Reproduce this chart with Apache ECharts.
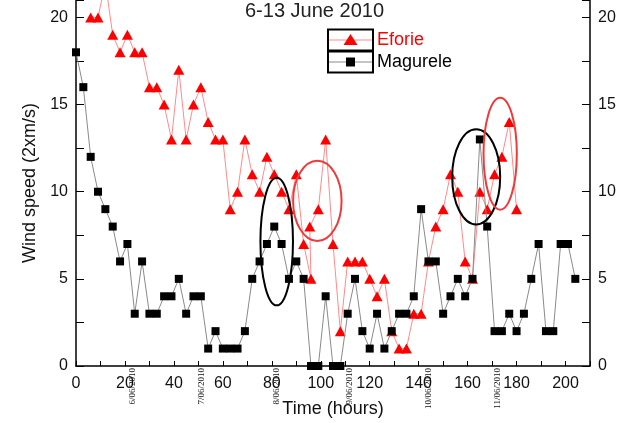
<!DOCTYPE html>
<html><head><meta charset="utf-8">
<script src="https://cdn.jsdelivr.net/npm/echarts@6/dist/echarts.min.js"></script>
<style>html,body{margin:0;padding:0;background:#fff}#c{width:625px;height:423px}</style>
</head><body><div id="c"></div>
<script>
// ---- data ----
const magTimes = [0,3,6,9,12,15,18,21,24,27,30,33,36,39,42,45,48,51,54,57,60,63,66,69,72,75,78,81,84,87,90,93,96,99,102,105,108,111,114,117,120,123,126,129,132,135,138,141,144,147,150,153,156,159,162,165,168,171,174,177,180,183,186,189,192,195,198,201,204];
const magValues = [18,16,12,10,9,8,6,7,3,6,3,3,4,4,5,3,4,4,1,2,1,1,1,2,5,6,7,8,7,5,6,5,0,0,4,0,0,3,5,2,1,3,1,2,3,3,4,9,6,6,3,4,5,4,5,13,8,2,2,3,2,3,5,7,2,2,7,7,5];
const efoTimes = [6,9,12,15,18,21,24,27,30,33,36,39,42,45,48,51,54,57,60,63,66,69,72,75,78,81,84,87,90,93,96,95.5,99,102,105,108,111,114,117,120,123,126,129,132,135,138,141,144,147,150,153,156,159,162,165,168,171,174,177,180];
const efoValues = [20,20,22,19,18,19,18,18,16,16,15,13,17,13,15,16,14,13,13,9,10,13,11,10,12,11,10,9,11,7,5,8,9,13,7,2,6,6,6,5,4,5,2,1,1,3,3,6,8,9,11,10,6,5,10,9,11,12,14,9];
const dateLabels = ['6/06/2010','7/06/2010','8/06/2010','9/06/2010','10/06/2010','11/06/2010'];
const dateHours = [23,51.3,82,111.6,144,172.2];
// annotation ellipses: [centre hour, centre value, half-width hours, half-height value, colour]
const ellipses = [[82,7.14,6.65,3.66,'#000'],[98.6,9.47,9.9,2.3,'#f03a3a'],[163.5,10.85,9.8,2.73,'#000'],[173.3,12.18,6.8,3.21,'#f03a3a']];
const yTicks = [0,5,10,15,20];

const FONT = 'Liberation Sans, Arial, sans-serif';
const chart = echarts.init(document.getElementById('c'));
const yAxisBase = {
  type:'value', min:0, max:21, interval:2.5,
  axisLine:{show:true, lineStyle:{color:'#000', width:1.5}},
  axisTick:{show:true, inside:true, length:8, lineStyle:{color:'#000', width:1}},
  axisLabel:{fontFamily:FONT, fontSize:16, color:'#111', margin:8,
    formatter:v => yTicks.indexOf(v) >= 0 ? String(v) : ''},
  splitLine:{show:false}
};
const option = {
  animation:false,
  backgroundColor:'#fff',
  title:{text:'6-13 June 2010', left:245, top:1, padding:0,
    textStyle:{fontFamily:FONT, fontSize:20, fontWeight:'normal', color:'#222'}},
  grid:{left:76, right:35, top:0, bottom:56},
  xAxis:{type:'value', min:0, max:210, interval:10,
    name:'Time (hours)', nameLocation:'middle', nameGap:34,
    nameTextStyle:{fontFamily:FONT, fontSize:18, color:'#111'},
    axisLine:{lineStyle:{color:'#000', width:1.5}},
    axisTick:{inside:true, length:5, lineStyle:{color:'#000'}},
    axisLabel:{fontFamily:FONT, fontSize:16, color:'#111', margin:10,
      formatter:v => (v % 20 === 0 && v <= 200) ? String(v) : ''},
    splitLine:{show:false}},
  yAxis:[
    Object.assign({}, yAxisBase, {position:'left', name:'Wind speed (2xm/s)', nameLocation:'middle', nameGap:36,
      nameTextStyle:{fontFamily:FONT, fontSize:18, color:'#111'}}),
    Object.assign({}, yAxisBase, {position:'right'})
  ],
  series:[
    {name:'Eforie', type:'line', data:efoTimes.map((t,i)=>[t,efoValues[i]]),
     symbol:'triangle', symbolSize:[11,10], itemStyle:{color:'#ff0000'},
     lineStyle:{color:'#ff8a8a', width:1}, z:3},
    {name:'Magurele', type:'line', data:magTimes.map((t,i)=>[t,magValues[i]]),
     symbol:'rect', symbolSize:8, itemStyle:{color:'#000'},
     lineStyle:{color:'#8a8a8a', width:1}, z:4}
  ]
};
chart.setOption(option);

const g = [];
// date labels under the axis
dateHours.forEach((h,i)=>{
  const p = chart.convertToPixel({xAxisIndex:0, yAxisIndex:0}, [h,0]);
  g.push({type:'text', x:p[0], y:p[1]+2, rotation:Math.PI/2, z:10,
    style:{text:dateLabels[i], fill:'#111', font:'9px "Liberation Serif", serif', align:'right', verticalAlign:'middle'}});
});
// ellipses
ellipses.forEach(e=>{
  const c = chart.convertToPixel({xAxisIndex:0, yAxisIndex:0}, [e[0],e[1]]);
  const c2 = chart.convertToPixel({xAxisIndex:0, yAxisIndex:0}, [e[0]+e[2],e[1]+e[3]]);
  g.push({type:'ellipse', z:20, shape:{cx:c[0], cy:c[1], rx:Math.abs(c2[0]-c[0]), ry:Math.abs(c2[1]-c[1])},
    style:{fill:'none', stroke:e[4], lineWidth:2}});
});
// legend
const lx = 328, lw = 45;
[['Eforie','#ff0000','#ff8a8a',29.5],['Magurele','#000','#8a8a8a',51.5]].forEach((it,i)=>{
  const top = it[3], h = 21, cy = top + h/2;
  g.push({type:'line', z:30, shape:{x1:lx, y1:cy, x2:lx+lw, y2:cy}, style:{stroke:it[2], lineWidth:1}});
  if (i===0) g.push({type:'polygon', z:31, shape:{points:[[lx+lw/2, cy-6],[lx+lw/2-7, cy+5],[lx+lw/2+7, cy+5]]}, style:{fill:it[1]}});
  else g.push({type:'rect', z:31, shape:{x:lx+lw/2-4.5, y:cy-4.5, width:9, height:9}, style:{fill:it[1]}});
  g.push({type:'rect', z:32, shape:{x:lx, y:top, width:lw, height:h}, style:{fill:'none', stroke:'#000', lineWidth:2}});
  g.push({type:'text', z:32, x:lx+lw+4, y:cy, style:{text:it[0], fill:it[1], font:'18px ' + FONT, verticalAlign:'middle'}});
});
chart.setOption({graphic:g});
</script></body></html>
